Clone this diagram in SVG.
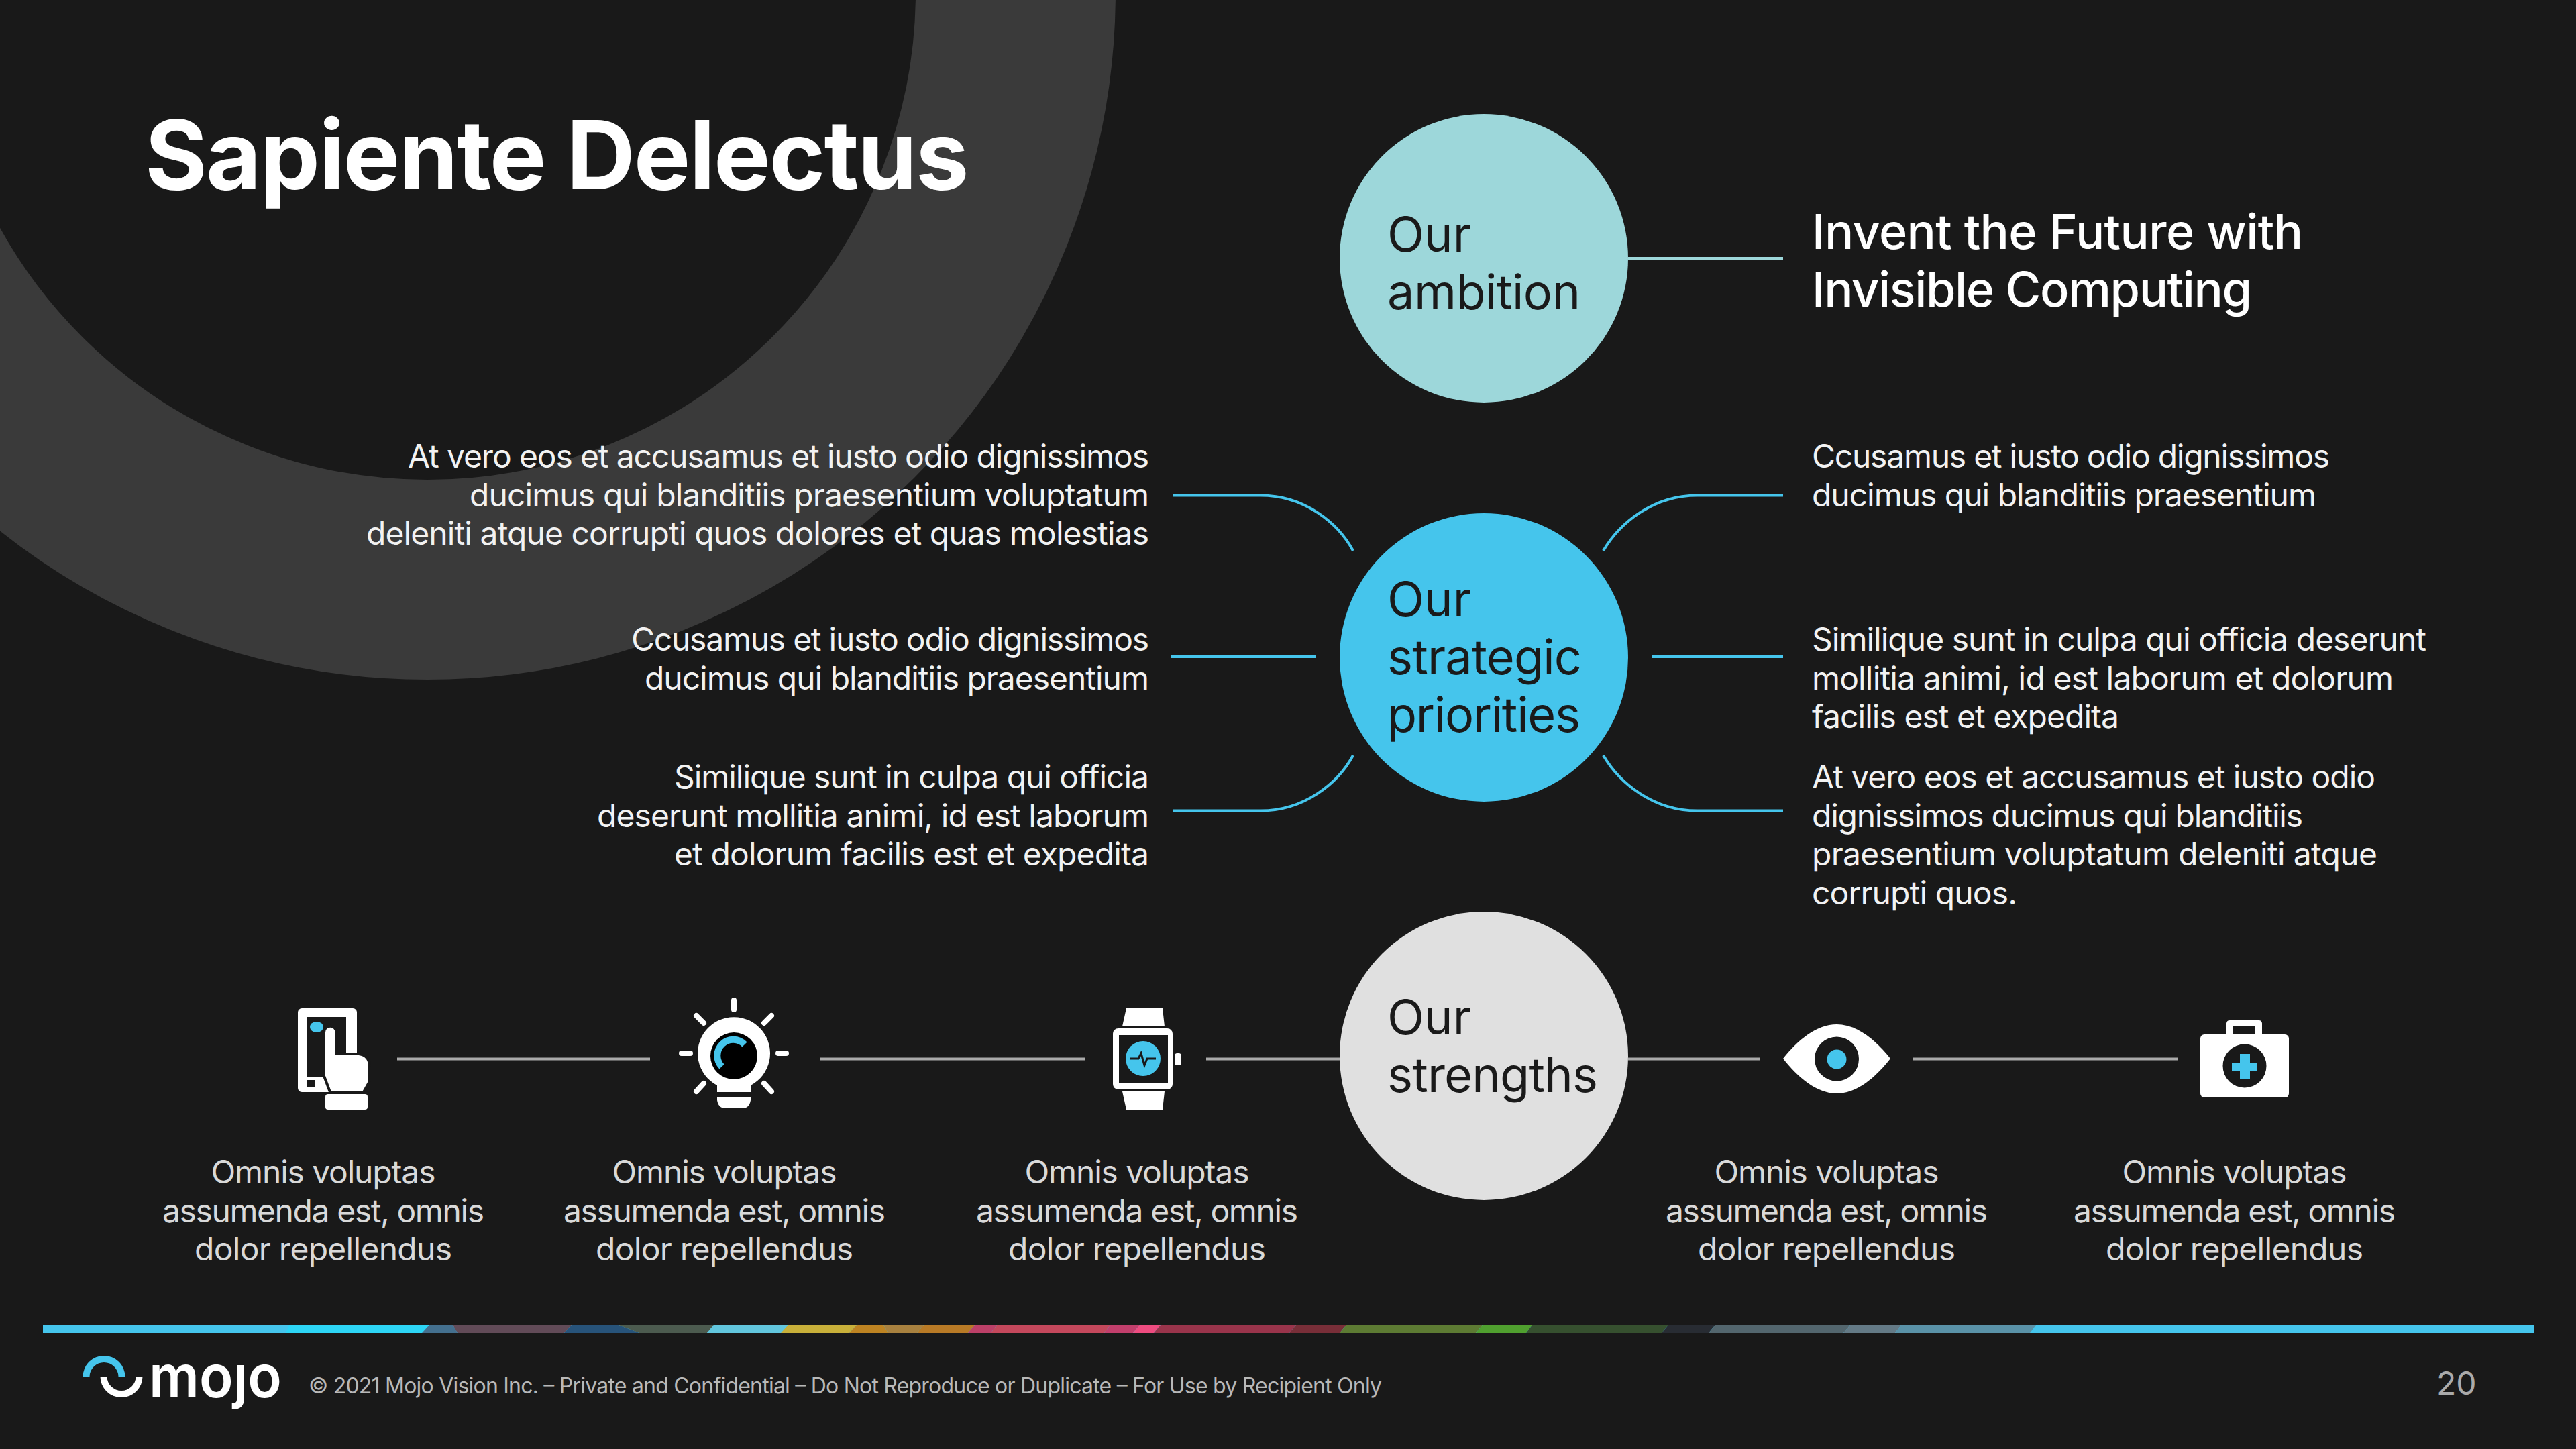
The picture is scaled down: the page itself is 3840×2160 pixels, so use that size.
<svg xmlns="http://www.w3.org/2000/svg" width="3840" height="2160" viewBox="0 0 3840 2160">
<style>
text{font-family:"Inter","Liberation Sans",sans-serif}
.t{font-size:48px;fill:#f2f2f2}
.e{text-anchor:end}
.c{font-size:48px;fill:#d9d9d9;text-anchor:middle}
.n{font-size:72px;fill:#1a1a1a}
.h{font-size:72px;fill:#fff;font-weight:500}
.b{fill:none;stroke:#45c5ec;stroke-width:4}
.g{fill:none;stroke:#aaa;stroke-width:4}
.w{fill:#fff}
.k{fill:#191919}
.a{fill:#45c5ec}
.r{fill:none;stroke:#fff;stroke-width:8;stroke-linecap:round}
</style>
<rect width="3840" height="2160" fill="#191919"/>
<circle cx="637" cy="-13" r="877" fill="none" stroke="#3a3a3a" stroke-width="298"/>
<text x="216" y="282" font-size="142" font-weight="700" fill="#fff" letter-spacing="-1.9">Sapiente Delectus</text>
<g id="connectors">
<path d="M2427 385H2658" fill="none" stroke="#9dd7da" stroke-width="4"/>
<path class="b" d="M1749 738.500H1879C1945 738.500 1995 780 2017 821"/>
<path class="b" d="M1745 979H1962"/>
<path class="b" d="M1749 1208.500H1879C1945 1208.500 1995 1167 2017 1126"/>
<path class="b" d="M2658 738.500H2530C2464 738.500 2414 780 2390 821"/>
<path class="b" d="M2463 979H2658"/>
<path class="b" d="M2658 1208.500H2530C2464 1208.500 2414 1167 2390 1126"/>
<path class="g" d="M592 1578.500H969M1222 1578.500H1617M1798 1578.500H1998M2427 1578.500H2624M2851 1578.500H3246"/>
</g>
<g id="node-ambition"><circle cx="2212" cy="385" r="215" fill="#9dd7da"/><text class="n" x="2068" y="375">Our</text><text class="n" x="2068" y="461" textLength="288">ambition</text></g>
<g id="node-priorities"><circle cx="2212" cy="980" r="215" fill="#45c5ec"/><text class="n" x="2068" y="919">Our</text><text class="n" x="2068" y="1005" textLength="290">strategic</text><text class="n" x="2068" y="1091" textLength="288">priorities</text></g>
<g id="node-strengths"><circle cx="2212" cy="1574" r="215" fill="#e0e0e0"/><text class="n" x="2068" y="1542">Our</text><text class="n" x="2068" y="1628" textLength="314">strengths</text></g>
<g id="ambition-text"><text class="h" x="2701" y="371" textLength="732">Invent the Future with</text><text class="h" x="2701" y="457" textLength="656">Invisible Computing</text></g>
<g id="left-1"><text class="t e" x="1713" y="697" textLength="1105">At vero eos et accusamus et iusto odio dignissimos</text><text class="t e" x="1713" y="754.600" textLength="1013">ducimus qui blanditiis praesentium voluptatum</text><text class="t e" x="1713" y="812.200" textLength="1167">deleniti atque corrupti quos dolores et quas molestias</text></g>
<g id="left-2"><text class="t e" x="1713" y="970" textLength="772">Ccusamus et iusto odio dignissimos</text><text class="t e" x="1713" y="1027.600" textLength="752">ducimus qui blanditiis praesentium</text></g>
<g id="left-3"><text class="t e" x="1713" y="1175" textLength="708">Similique sunt in culpa qui officia</text><text class="t e" x="1713" y="1232.600" textLength="823">deserunt mollitia animi, id est laborum</text><text class="t e" x="1713" y="1290.200" textLength="708">et dolorum facilis est et expedita</text></g>
<g id="right-1"><text class="t" x="2701" y="697" textLength="772">Ccusamus et iusto odio dignissimos</text><text class="t" x="2701" y="754.600" textLength="752">ducimus qui blanditiis praesentium</text></g>
<g id="right-2"><text class="t" x="2701" y="970" textLength="916">Similique sunt in culpa qui officia deserunt</text><text class="t" x="2701" y="1027.600" textLength="867">mollitia animi, id est laborum et dolorum</text><text class="t" x="2701" y="1085.200" textLength="458">facilis est et expedita</text></g>
<g id="right-3"><text class="t" x="2701" y="1175" textLength="840">At vero eos et accusamus et iusto odio</text><text class="t" x="2701" y="1232.600" textLength="732">dignissimos ducimus qui blanditiis</text><text class="t" x="2701" y="1290.200" textLength="843">praesentium voluptatum deleniti atque</text><text class="t" x="2701" y="1347.800" textLength="306">corrupti quos.</text></g>
<g id="icon-phone">
<rect class="w" x="444" y="1503" width="88" height="125" rx="6"/>
<rect class="k" x="458" y="1516" width="58" height="90"/>
<rect class="k" x="458" y="1610" width="11" height="10"/>
<ellipse class="a" cx="472" cy="1531" rx="10" ry="8"/>
<path class="w" stroke="#191919" stroke-width="4" d="M483 1539a9 9 0 0 1 18.500 0V1571H535Q551 1573 551 1590V1612L542 1628H492L483 1604Z"/>
<rect class="w" x="485" y="1631" width="63" height="23" rx="4"/>
</g>
<g id="icon-bulb">
<path class="r" d="M1094 1491V1505M1016 1570H1029M1160 1570H1172M1038 1514L1049 1525M1150 1514L1139 1525M1049 1615L1038 1627M1139 1615L1150 1627"/>
<path class="w" d="M1069 1628V1618A54 54 0 1 1 1119 1618V1628Z"/>
<circle fill="#000" cx="1094" cy="1574" r="35"/>
<path fill="none" stroke="#45c5ec" stroke-width="10" d="M1076 1590A23 23 0 0 1 1110 1557"/>
<path class="w" d="M1069 1636H1119V1640Q1117 1652 1107 1652H1081Q1071 1652 1069 1640Z"/>
</g>
<g id="icon-watch">
<path class="w" d="M1679 1503H1733L1736 1530H1673ZM1673 1627H1736L1733 1654H1679Z"/>
<rect class="w" x="1659" y="1533" width="89" height="91" rx="8"/>
<rect class="k" x="1668" y="1543" width="73" height="71"/>
<circle class="a" cx="1704" cy="1578" r="26"/>
<path fill="none" stroke="#191919" stroke-width="3" d="M1685 1578H1697L1701 1570L1706 1588L1710 1578H1723"/>
<rect class="w" x="1751" y="1570" width="10" height="18" rx="4"/>
</g>
<g id="icon-eye">
<path class="w" d="M2658 1578C2680 1550 2708 1527 2738 1527C2768 1527 2796 1550 2818 1578C2796 1606 2768 1630 2738 1630C2708 1630 2680 1606 2658 1578Z"/>
<circle class="k" cx="2738" cy="1578.500" r="33"/>
<circle class="a" cx="2738" cy="1579" r="14.500"/>
</g>
<g id="icon-kit">
<path class="w" fill-rule="evenodd" d="M3319 1542V1526Q3319 1521 3324 1521H3367Q3372 1521 3372 1526V1542ZM3328 1542H3362V1529H3328Z"/>
<rect class="w" x="3280" y="1542" width="132" height="94" rx="6"/>
<circle class="k" cx="3346" cy="1589" r="32.500"/>
<path class="a" d="M3339 1571H3354V1584H3365V1596H3354V1608H3339V1596H3327V1584H3339Z"/>
</g>
<g id="cap-1"><text class="c" x="482" y="1764" textLength="335">Omnis voluptas</text><text class="c" x="482" y="1821.600" textLength="480">assumenda est, omnis</text><text class="c" x="482" y="1879.200" textLength="384">dolor repellendus</text></g>
<g id="cap-2"><text class="c" x="1080" y="1764" textLength="335">Omnis voluptas</text><text class="c" x="1080" y="1821.600" textLength="480">assumenda est, omnis</text><text class="c" x="1080" y="1879.200" textLength="384">dolor repellendus</text></g>
<g id="cap-3"><text class="c" x="1695" y="1764" textLength="335">Omnis voluptas</text><text class="c" x="1695" y="1821.600" textLength="480">assumenda est, omnis</text><text class="c" x="1695" y="1879.200" textLength="384">dolor repellendus</text></g>
<g id="cap-4"><text class="c" x="2723" y="1764" textLength="335">Omnis voluptas</text><text class="c" x="2723" y="1821.600" textLength="480">assumenda est, omnis</text><text class="c" x="2723" y="1879.200" textLength="384">dolor repellendus</text></g>
<g id="cap-5"><text class="c" x="3331" y="1764" textLength="335">Omnis voluptas</text><text class="c" x="3331" y="1821.600" textLength="480">assumenda est, omnis</text><text class="c" x="3331" y="1879.200" textLength="384">dolor repellendus</text></g>
<g id="footer-bar">
<rect x="64" y="1975" width="3714" height="12" fill="#45c5ec"/>
<path fill="#2dd5f5" d="M431 1975H640L629 1987H426Z"/>
<path fill="#44708f" d="M640 1975H675L682 1987H629Z"/>
<path fill="#624b58" d="M675 1975H852L841 1987H682Z"/>
<path fill="#27537a" d="M852 1975H922L953 1987H841Z"/>
<path fill="#4c5b4f" d="M922 1975H1064L1054 1987H953Z"/>
<path fill="#62c6dd" d="M1064 1975H1175L1164 1987H1054Z"/>
<path fill="#c8b03a" d="M1175 1975H1277L1266 1987H1164Z"/>
<path fill="#bd8322" d="M1277 1975H1317L1324 1987H1266Z"/>
<path fill="#a8813f" d="M1317 1975H1377L1367 1987H1324Z"/>
<path fill="#b87a26" d="M1377 1975H1453L1443 1987H1367Z"/>
<path fill="#bc4068" d="M1453 1975H1486L1477 1987H1443Z"/>
<path fill="#c4485c" d="M1486 1975H1655L1646 1987H1477Z"/>
<path fill="#c23f6c" d="M1655 1975H1699L1689 1987H1646Z"/>
<path fill="#ee4c80" d="M1699 1975H1730L1720 1987H1689Z"/>
<path fill="#99344b" d="M1730 1975H1932L1922 1987H1720Z"/>
<path fill="#782e38" d="M1932 1975H2007L1997 1987H1922Z"/>
<path fill="#5d7b33" d="M2007 1975H2210L2200 1987H1997Z"/>
<path fill="#50a02f" d="M2210 1975H2284L2275 1987H2200Z"/>
<path fill="#36502f" d="M2284 1975H2487L2477 1987H2275Z"/>
<path fill="#282c33" d="M2487 1975H2557L2547 1987H2477Z"/>
<path fill="#53666e" d="M2557 1975H2758L2748 1987H2547Z"/>
<path fill="#647a86" d="M2758 1975H2834L2825 1987H2748Z"/>
<path fill="#5a92a8" d="M2834 1975H3035L3026 1987H2825Z"/>
</g>
<g id="logo">
<path class="a" d="M123.500 2052A31.500 31 0 0 1 186.500 2052H176.500A21.500 21 0 0 0 133.500 2052Z"/>
<path class="w" d="M149.500 2052H159.500A21.500 21 0 0 0 202.500 2052H212.500A31.500 31 0 0 1 149.500 2052Z"/>
<text x="222" y="2083" font-size="88" font-weight="600" fill="#fff" textLength="198" lengthAdjust="spacingAndGlyphs">mojo</text>
<rect x="345" y="2012" width="30" height="21" class="k"/>
</g>
<text x="460" y="2077" font-size="32" fill="#b8b8b8" textLength="1600">© 2021 Mojo Vision Inc. – Private and Confidential – Do Not Reproduce or Duplicate – For Use by Recipient Only</text>
<text x="3632" y="2079" font-size="48" fill="#aaa">20</text>
</svg>
